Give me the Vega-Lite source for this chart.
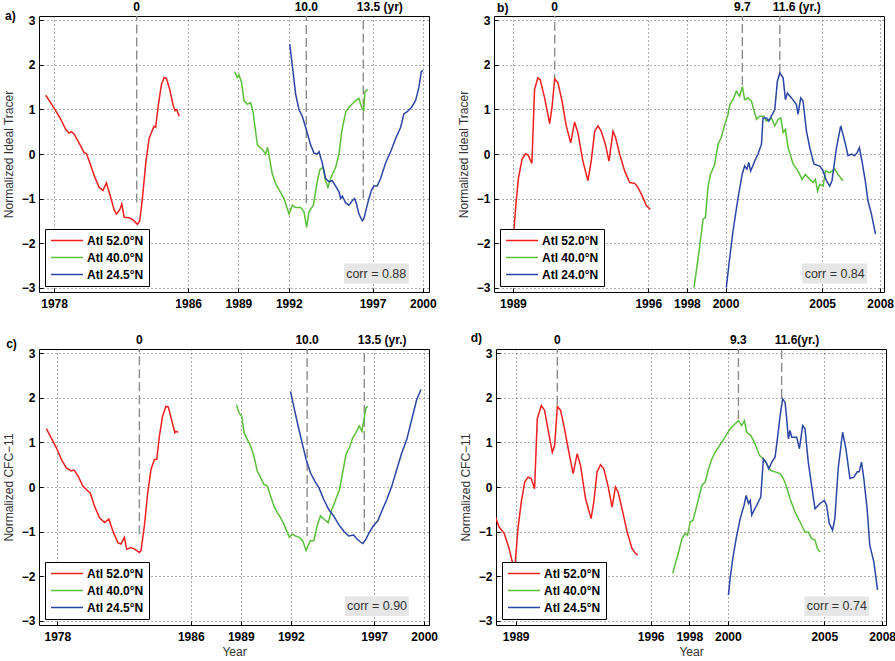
{
  "$schema": "https://vega.github.io/schema/vega-lite/v6.json",
  "padding": {"left": 1, "top": 0, "right": 0, "bottom": 2},
  "config": {
    "font": "Liberation Sans",
    "view": {"stroke": "black", "strokeWidth": 1},
    "axis": {
      "labelFontWeight": "bold", "labelFontSize": 12, "labelColor": "black",
      "titleFontWeight": "normal", "titleFontSize": 12, "titleColor": "#333",
      "ticks": true, "tickSize": -4, "tickColor": "black", "tickWidth": 1,
      "domain": false, "grid": true,
      "gridDash": [1, 3], "gridColor": "#333", "gridWidth": 0.8,
      "labelFlush": false, "labelOverlap": false
    },
    "axisX": {"labelPadding": 10, "format": "d", "titlePadding": 4},
    "axisY": {"labelPadding": 8, "titlePadding": 6},
    "legend": {
      "title": null, "orient": "bottom-left", "offset": 6, "padding": 5,
      "strokeColor": "black", "fillColor": "white", "cornerRadius": 0,
      "symbolType": "M-1,0H4.82", "symbolSize": 121, "symbolStrokeWidth": 1.5,
      "labelFontWeight": "bold", "labelFontSize": 12, "labelColor": "black",
      "rowPadding": 4, "labelOffset": 24
    }
  },
  "datasets": {
    "a": [
      {"site":"Atl 52.0°N","year":1977.50,"v":1.32},{"site":"Atl 52.0°N","year":1977.80,"v":1.15},{"site":"Atl 52.0°N","year":1978.10,"v":0.97},{"site":"Atl 52.0°N","year":1978.40,"v":0.78},{"site":"Atl 52.0°N","year":1978.70,"v":0.55},{"site":"Atl 52.0°N","year":1978.89,"v":0.47},{"site":"Atl 52.0°N","year":1979.03,"v":0.50},{"site":"Atl 52.0°N","year":1979.19,"v":0.45},{"site":"Atl 52.0°N","year":1979.49,"v":0.25},{"site":"Atl 52.0°N","year":1979.79,"v":0.03},{"site":"Atl 52.0°N","year":1979.93,"v":0.01},{"site":"Atl 52.0°N","year":1980.09,"v":-0.15},{"site":"Atl 52.0°N","year":1980.39,"v":-0.48},{"site":"Atl 52.0°N","year":1980.68,"v":-0.75},{"site":"Atl 52.0°N","year":1980.92,"v":-0.82},{"site":"Atl 52.0°N","year":1981.12,"v":-0.65},{"site":"Atl 52.0°N","year":1981.32,"v":-0.90},{"site":"Atl 52.0°N","year":1981.58,"v":-1.25},{"site":"Atl 52.0°N","year":1981.72,"v":-1.35},{"site":"Atl 52.0°N","year":1981.92,"v":-1.25},{"site":"Atl 52.0°N","year":1982.04,"v":-1.12},{"site":"Atl 52.0°N","year":1982.18,"v":-1.42},{"site":"Atl 52.0°N","year":1982.47,"v":-1.43},{"site":"Atl 52.0°N","year":1982.71,"v":-1.48},{"site":"Atl 52.0°N","year":1982.97,"v":-1.58},{"site":"Atl 52.0°N","year":1983.11,"v":-1.50},{"site":"Atl 52.0°N","year":1983.27,"v":-1.00},{"site":"Atl 52.0°N","year":1983.47,"v":-0.20},{"site":"Atl 52.0°N","year":1983.67,"v":0.35},{"site":"Atl 52.0°N","year":1983.83,"v":0.50},{"site":"Atl 52.0°N","year":1983.96,"v":0.62},{"site":"Atl 52.0°N","year":1984.06,"v":0.60},{"site":"Atl 52.0°N","year":1984.22,"v":1.10},{"site":"Atl 52.0°N","year":1984.40,"v":1.55},{"site":"Atl 52.0°N","year":1984.56,"v":1.72},{"site":"Atl 52.0°N","year":1984.70,"v":1.70},{"site":"Atl 52.0°N","year":1984.90,"v":1.45},{"site":"Atl 52.0°N","year":1985.10,"v":1.10},{"site":"Atl 52.0°N","year":1985.22,"v":0.97},{"site":"Atl 52.0°N","year":1985.32,"v":1.00},{"site":"Atl 52.0°N","year":1985.46,"v":0.85},
      {"site":"Atl 40.0°N","year":1988.78,"v":1.85},{"site":"Atl 40.0°N","year":1988.93,"v":1.72},{"site":"Atl 40.0°N","year":1989.03,"v":1.78},{"site":"Atl 40.0°N","year":1989.19,"v":1.60},{"site":"Atl 40.0°N","year":1989.33,"v":1.20},{"site":"Atl 40.0°N","year":1989.53,"v":1.12},{"site":"Atl 40.0°N","year":1989.73,"v":1.15},{"site":"Atl 40.0°N","year":1989.87,"v":0.95},{"site":"Atl 40.0°N","year":1990.13,"v":0.20},{"site":"Atl 40.0°N","year":1990.43,"v":0.10},{"site":"Atl 40.0°N","year":1990.62,"v":0.00},{"site":"Atl 40.0°N","year":1990.74,"v":0.15},{"site":"Atl 40.0°N","year":1991.02,"v":-0.45},{"site":"Atl 40.0°N","year":1991.26,"v":-0.70},{"site":"Atl 40.0°N","year":1991.42,"v":-0.80},{"site":"Atl 40.0°N","year":1991.72,"v":-1.00},{"site":"Atl 40.0°N","year":1992.02,"v":-1.35},{"site":"Atl 40.0°N","year":1992.21,"v":-1.15},{"site":"Atl 40.0°N","year":1992.41,"v":-1.20},{"site":"Atl 40.0°N","year":1992.71,"v":-1.20},{"site":"Atl 40.0°N","year":1992.91,"v":-1.30},{"site":"Atl 40.0°N","year":1993.07,"v":-1.65},{"site":"Atl 40.0°N","year":1993.21,"v":-1.30},{"site":"Atl 40.0°N","year":1993.47,"v":-1.15},{"site":"Atl 40.0°N","year":1993.71,"v":-0.60},{"site":"Atl 40.0°N","year":1993.86,"v":-0.35},{"site":"Atl 40.0°N","year":1994.04,"v":-0.30},{"site":"Atl 40.0°N","year":1994.20,"v":-0.60},{"site":"Atl 40.0°N","year":1994.34,"v":-0.75},{"site":"Atl 40.0°N","year":1994.50,"v":-0.55},{"site":"Atl 40.0°N","year":1994.80,"v":-0.30},{"site":"Atl 40.0°N","year":1995.00,"v":0.00},{"site":"Atl 40.0°N","year":1995.16,"v":0.50},{"site":"Atl 40.0°N","year":1995.40,"v":0.95},{"site":"Atl 40.0°N","year":1995.59,"v":1.05},{"site":"Atl 40.0°N","year":1995.99,"v":1.20},{"site":"Atl 40.0°N","year":1996.19,"v":1.25},{"site":"Atl 40.0°N","year":1996.39,"v":1.00},{"site":"Atl 40.0°N","year":1996.47,"v":0.98},{"site":"Atl 40.0°N","year":1996.55,"v":1.40},{"site":"Atl 40.0°N","year":1996.71,"v":1.45},
      {"site":"Atl 24.5°N","year":1992.06,"v":2.47},{"site":"Atl 24.5°N","year":1992.21,"v":2.00},{"site":"Atl 24.5°N","year":1992.41,"v":1.35},{"site":"Atl 24.5°N","year":1992.61,"v":1.00},{"site":"Atl 24.5°N","year":1992.81,"v":0.85},{"site":"Atl 24.5°N","year":1993.05,"v":0.55},{"site":"Atl 24.5°N","year":1993.31,"v":0.20},{"site":"Atl 24.5°N","year":1993.51,"v":0.02},{"site":"Atl 24.5°N","year":1993.71,"v":0.00},{"site":"Atl 24.5°N","year":1993.81,"v":0.05},{"site":"Atl 24.5°N","year":1994.00,"v":-0.20},{"site":"Atl 24.5°N","year":1994.20,"v":-0.55},{"site":"Atl 24.5°N","year":1994.40,"v":-0.62},{"site":"Atl 24.5°N","year":1994.60,"v":-0.60},{"site":"Atl 24.5°N","year":1994.80,"v":-0.72},{"site":"Atl 24.5°N","year":1995.00,"v":-0.85},{"site":"Atl 24.5°N","year":1995.10,"v":-1.00},{"site":"Atl 24.5°N","year":1995.20,"v":-0.95},{"site":"Atl 24.5°N","year":1995.40,"v":-1.10},{"site":"Atl 24.5°N","year":1995.59,"v":-1.15},{"site":"Atl 24.5°N","year":1995.79,"v":-1.05},{"site":"Atl 24.5°N","year":1995.93,"v":-1.00},{"site":"Atl 24.5°N","year":1996.03,"v":-1.10},{"site":"Atl 24.5°N","year":1996.19,"v":-1.35},{"site":"Atl 24.5°N","year":1996.39,"v":-1.50},{"site":"Atl 24.5°N","year":1996.49,"v":-1.45},{"site":"Atl 24.5°N","year":1996.65,"v":-1.20},{"site":"Atl 24.5°N","year":1996.79,"v":-1.00},{"site":"Atl 24.5°N","year":1996.95,"v":-0.80},{"site":"Atl 24.5°N","year":1997.09,"v":-0.72},{"site":"Atl 24.5°N","year":1997.28,"v":-0.72},{"site":"Atl 24.5°N","year":1997.48,"v":-0.55},{"site":"Atl 24.5°N","year":1997.78,"v":-0.20},{"site":"Atl 24.5°N","year":1998.08,"v":0.05},{"site":"Atl 24.5°N","year":1998.38,"v":0.35},{"site":"Atl 24.5°N","year":1998.68,"v":0.60},{"site":"Atl 24.5°N","year":1998.87,"v":0.90},{"site":"Atl 24.5°N","year":1999.07,"v":0.95},{"site":"Atl 24.5°N","year":1999.33,"v":1.05},{"site":"Atl 24.5°N","year":1999.57,"v":1.20},{"site":"Atl 24.5°N","year":1999.77,"v":1.50},{"site":"Atl 24.5°N","year":1999.91,"v":1.85},{"site":"Atl 24.5°N","year":2000.01,"v":1.88}
    ],
    "b": [
      {"site":"Atl 52.0°N","year":1988.83,"v":-2.55},{"site":"Atl 52.0°N","year":1989.05,"v":-1.72},{"site":"Atl 52.0°N","year":1989.17,"v":-1.05},{"site":"Atl 52.0°N","year":1989.29,"v":-0.53},{"site":"Atl 52.0°N","year":1989.47,"v":-0.12},{"site":"Atl 52.0°N","year":1989.64,"v":0.00},{"site":"Atl 52.0°N","year":1989.78,"v":-0.02},{"site":"Atl 52.0°N","year":1989.98,"v":-0.21},{"site":"Atl 52.0°N","year":1990.12,"v":1.45},{"site":"Atl 52.0°N","year":1990.29,"v":1.71},{"site":"Atl 52.0°N","year":1990.41,"v":1.67},{"site":"Atl 52.0°N","year":1990.64,"v":1.26},{"site":"Atl 52.0°N","year":1990.90,"v":0.68},{"site":"Atl 52.0°N","year":1991.02,"v":1.04},{"site":"Atl 52.0°N","year":1991.16,"v":1.69},{"site":"Atl 52.0°N","year":1991.33,"v":1.60},{"site":"Atl 52.0°N","year":1991.54,"v":1.19},{"site":"Atl 52.0°N","year":1991.76,"v":0.63},{"site":"Atl 52.0°N","year":1991.99,"v":0.25},{"site":"Atl 52.0°N","year":1992.19,"v":0.72},{"site":"Atl 52.0°N","year":1992.36,"v":0.48},{"site":"Atl 52.0°N","year":1992.62,"v":-0.16},{"site":"Atl 52.0°N","year":1992.88,"v":-0.60},{"site":"Atl 52.0°N","year":1993.05,"v":-0.16},{"site":"Atl 52.0°N","year":1993.23,"v":0.51},{"site":"Atl 52.0°N","year":1993.40,"v":0.63},{"site":"Atl 52.0°N","year":1993.57,"v":0.51},{"site":"Atl 52.0°N","year":1993.78,"v":0.22},{"site":"Atl 52.0°N","year":1993.97,"v":-0.16},{"site":"Atl 52.0°N","year":1994.18,"v":0.51},{"site":"Atl 52.0°N","year":1994.31,"v":0.37},{"site":"Atl 52.0°N","year":1994.52,"v":0.00},{"site":"Atl 52.0°N","year":1994.78,"v":-0.38},{"site":"Atl 52.0°N","year":1995.04,"v":-0.64},{"site":"Atl 52.0°N","year":1995.30,"v":-0.66},{"site":"Atl 52.0°N","year":1995.47,"v":-0.75},{"site":"Atl 52.0°N","year":1995.73,"v":-0.98},{"site":"Atl 52.0°N","year":1995.90,"v":-1.16},{"site":"Atl 52.0°N","year":1996.11,"v":-1.24},
      {"site":"Atl 40.0°N","year":1998.37,"v":-3.00},{"site":"Atl 40.0°N","year":1998.61,"v":-2.25},{"site":"Atl 40.0°N","year":1998.84,"v":-1.46},{"site":"Atl 40.0°N","year":1998.96,"v":-1.43},{"site":"Atl 40.0°N","year":1999.09,"v":-0.75},{"site":"Atl 40.0°N","year":1999.22,"v":-0.46},{"site":"Atl 40.0°N","year":1999.44,"v":-0.23},{"site":"Atl 40.0°N","year":1999.61,"v":0.22},{"site":"Atl 40.0°N","year":1999.78,"v":0.37},{"site":"Atl 40.0°N","year":1999.96,"v":0.66},{"site":"Atl 40.0°N","year":2000.13,"v":0.89},{"site":"Atl 40.0°N","year":2000.22,"v":1.11},{"site":"Atl 40.0°N","year":2000.39,"v":1.22},{"site":"Atl 40.0°N","year":2000.56,"v":1.41},{"site":"Atl 40.0°N","year":2000.73,"v":1.30},{"site":"Atl 40.0°N","year":2000.87,"v":1.52},{"site":"Atl 40.0°N","year":2000.99,"v":1.22},{"site":"Atl 40.0°N","year":2001.17,"v":1.26},{"site":"Atl 40.0°N","year":2001.34,"v":1.19},{"site":"Atl 40.0°N","year":2001.60,"v":0.78},{"site":"Atl 40.0°N","year":2001.77,"v":0.85},{"site":"Atl 40.0°N","year":2001.99,"v":0.85},{"site":"Atl 40.0°N","year":2002.11,"v":0.74},{"site":"Atl 40.0°N","year":2002.37,"v":0.81},{"site":"Atl 40.0°N","year":2002.55,"v":0.63},{"site":"Atl 40.0°N","year":2002.72,"v":0.78},{"site":"Atl 40.0°N","year":2002.86,"v":0.81},{"site":"Atl 40.0°N","year":2002.98,"v":0.48},{"site":"Atl 40.0°N","year":2003.10,"v":0.55},{"site":"Atl 40.0°N","year":2003.24,"v":0.14},{"site":"Atl 40.0°N","year":2003.50,"v":-0.23},{"site":"Atl 40.0°N","year":2003.75,"v":-0.38},{"site":"Atl 40.0°N","year":2003.96,"v":-0.57},{"site":"Atl 40.0°N","year":2004.13,"v":-0.46},{"site":"Atl 40.0°N","year":2004.36,"v":-0.57},{"site":"Atl 40.0°N","year":2004.53,"v":-0.64},{"site":"Atl 40.0°N","year":2004.65,"v":-0.57},{"site":"Atl 40.0°N","year":2004.76,"v":-0.83},{"site":"Atl 40.0°N","year":2004.88,"v":-0.68},{"site":"Atl 40.0°N","year":2005.05,"v":-0.72},{"site":"Atl 40.0°N","year":2005.17,"v":-0.38},{"site":"Atl 40.0°N","year":2005.39,"v":-0.42},{"site":"Atl 40.0°N","year":2005.65,"v":-0.34},{"site":"Atl 40.0°N","year":2005.82,"v":-0.46},{"site":"Atl 40.0°N","year":2006.08,"v":-0.60},
      {"site":"Atl 24.0°N","year":2000.04,"v":-3.00},{"site":"Atl 24.0°N","year":2000.22,"v":-2.32},{"site":"Atl 24.0°N","year":2000.39,"v":-1.72},{"site":"Atl 24.0°N","year":2000.65,"v":-0.98},{"site":"Atl 24.0°N","year":2000.86,"v":-0.46},{"site":"Atl 24.0°N","year":2000.99,"v":-0.27},{"site":"Atl 24.0°N","year":2001.11,"v":-0.34},{"site":"Atl 24.0°N","year":2001.20,"v":-0.19},{"site":"Atl 24.0°N","year":2001.30,"v":-0.38},{"site":"Atl 24.0°N","year":2001.51,"v":-0.16},{"site":"Atl 24.0°N","year":2001.68,"v":0.00},{"site":"Atl 24.0°N","year":2001.86,"v":0.22},{"site":"Atl 24.0°N","year":2001.94,"v":0.81},{"site":"Atl 24.0°N","year":2002.11,"v":0.81},{"site":"Atl 24.0°N","year":2002.24,"v":0.74},{"site":"Atl 24.0°N","year":2002.37,"v":0.85},{"site":"Atl 24.0°N","year":2002.55,"v":1.00},{"site":"Atl 24.0°N","year":2002.68,"v":1.63},{"site":"Atl 24.0°N","year":2002.81,"v":1.82},{"site":"Atl 24.0°N","year":2002.98,"v":1.71},{"site":"Atl 24.0°N","year":2003.10,"v":1.22},{"site":"Atl 24.0°N","year":2003.20,"v":1.37},{"site":"Atl 24.0°N","year":2003.41,"v":1.26},{"site":"Atl 24.0°N","year":2003.67,"v":1.11},{"site":"Atl 24.0°N","year":2003.75,"v":0.89},{"site":"Atl 24.0°N","year":2003.89,"v":1.26},{"site":"Atl 24.0°N","year":2004.01,"v":1.19},{"site":"Atl 24.0°N","year":2004.19,"v":0.51},{"site":"Atl 24.0°N","year":2004.36,"v":0.14},{"site":"Atl 24.0°N","year":2004.58,"v":-0.23},{"site":"Atl 24.0°N","year":2004.88,"v":-0.27},{"site":"Atl 24.0°N","year":2005.05,"v":-0.38},{"site":"Atl 24.0°N","year":2005.22,"v":-0.60},{"site":"Atl 24.0°N","year":2005.39,"v":-0.72},{"site":"Atl 24.0°N","year":2005.51,"v":-0.60},{"site":"Atl 24.0°N","year":2005.74,"v":0.14},{"site":"Atl 24.0°N","year":2005.96,"v":0.63},{"site":"Atl 24.0°N","year":2006.17,"v":0.29},{"site":"Atl 24.0°N","year":2006.34,"v":-0.04},{"site":"Atl 24.0°N","year":2006.53,"v":0.00},{"site":"Atl 24.0°N","year":2006.68,"v":-0.04},{"site":"Atl 24.0°N","year":2006.81,"v":0.03},{"site":"Atl 24.0°N","year":2006.93,"v":0.14},{"site":"Atl 24.0°N","year":2007.06,"v":-0.16},{"site":"Atl 24.0°N","year":2007.23,"v":-0.60},{"site":"Atl 24.0°N","year":2007.37,"v":-1.05},{"site":"Atl 24.0°N","year":2007.55,"v":-1.35},{"site":"Atl 24.0°N","year":2007.76,"v":-1.80}
    ],
    "c": [
      {"site":"Atl 52.0°N","year":1977.34,"v":1.31},{"site":"Atl 52.0°N","year":1977.64,"v":1.10},{"site":"Atl 52.0°N","year":1977.94,"v":0.88},{"site":"Atl 52.0°N","year":1978.24,"v":0.62},{"site":"Atl 52.0°N","year":1978.54,"v":0.43},{"site":"Atl 52.0°N","year":1978.84,"v":0.36},{"site":"Atl 52.0°N","year":1979.00,"v":0.38},{"site":"Atl 52.0°N","year":1979.24,"v":0.25},{"site":"Atl 52.0°N","year":1979.53,"v":0.02},{"site":"Atl 52.0°N","year":1979.83,"v":-0.09},{"site":"Atl 52.0°N","year":1979.97,"v":-0.13},{"site":"Atl 52.0°N","year":1980.23,"v":-0.43},{"site":"Atl 52.0°N","year":1980.53,"v":-0.69},{"site":"Atl 52.0°N","year":1980.83,"v":-0.80},{"site":"Atl 52.0°N","year":1981.09,"v":-0.72},{"site":"Atl 52.0°N","year":1981.33,"v":-0.99},{"site":"Atl 52.0°N","year":1981.63,"v":-1.25},{"site":"Atl 52.0°N","year":1981.82,"v":-1.28},{"site":"Atl 52.0°N","year":1982.02,"v":-1.13},{"site":"Atl 52.0°N","year":1982.16,"v":-1.40},{"site":"Atl 52.0°N","year":1982.42,"v":-1.36},{"site":"Atl 52.0°N","year":1982.66,"v":-1.40},{"site":"Atl 52.0°N","year":1982.92,"v":-1.47},{"site":"Atl 52.0°N","year":1983.02,"v":-1.43},{"site":"Atl 52.0°N","year":1983.22,"v":-0.87},{"site":"Atl 52.0°N","year":1983.42,"v":-0.13},{"site":"Atl 52.0°N","year":1983.62,"v":0.40},{"site":"Atl 52.0°N","year":1983.82,"v":0.62},{"site":"Atl 52.0°N","year":1983.96,"v":0.62},{"site":"Atl 52.0°N","year":1984.12,"v":1.14},{"site":"Atl 52.0°N","year":1984.31,"v":1.59},{"site":"Atl 52.0°N","year":1984.51,"v":1.81},{"site":"Atl 52.0°N","year":1984.65,"v":1.80},{"site":"Atl 52.0°N","year":1984.85,"v":1.51},{"site":"Atl 52.0°N","year":1985.05,"v":1.22},{"site":"Atl 52.0°N","year":1985.11,"v":1.25},{"site":"Atl 52.0°N","year":1985.25,"v":1.23},
      {"site":"Atl 40.0°N","year":1988.74,"v":1.85},{"site":"Atl 40.0°N","year":1988.90,"v":1.66},{"site":"Atl 40.0°N","year":1989.06,"v":1.59},{"site":"Atl 40.0°N","year":1989.20,"v":1.22},{"site":"Atl 40.0°N","year":1989.39,"v":1.07},{"site":"Atl 40.0°N","year":1989.59,"v":0.92},{"site":"Atl 40.0°N","year":1989.79,"v":0.69},{"site":"Atl 40.0°N","year":1989.99,"v":0.36},{"site":"Atl 40.0°N","year":1990.19,"v":0.21},{"site":"Atl 40.0°N","year":1990.39,"v":0.06},{"site":"Atl 40.0°N","year":1990.59,"v":0.02},{"site":"Atl 40.0°N","year":1990.79,"v":-0.20},{"site":"Atl 40.0°N","year":1990.99,"v":-0.43},{"site":"Atl 40.0°N","year":1991.19,"v":-0.57},{"site":"Atl 40.0°N","year":1991.39,"v":-0.69},{"site":"Atl 40.0°N","year":1991.59,"v":-0.84},{"site":"Atl 40.0°N","year":1991.79,"v":-1.02},{"site":"Atl 40.0°N","year":1991.92,"v":-1.13},{"site":"Atl 40.0°N","year":1992.08,"v":-1.06},{"site":"Atl 40.0°N","year":1992.28,"v":-1.10},{"site":"Atl 40.0°N","year":1992.52,"v":-1.13},{"site":"Atl 40.0°N","year":1992.72,"v":-1.21},{"site":"Atl 40.0°N","year":1992.92,"v":-1.43},{"site":"Atl 40.0°N","year":1993.04,"v":-1.32},{"site":"Atl 40.0°N","year":1993.18,"v":-1.21},{"site":"Atl 40.0°N","year":1993.38,"v":-1.21},{"site":"Atl 40.0°N","year":1993.58,"v":-0.87},{"site":"Atl 40.0°N","year":1993.78,"v":-0.65},{"site":"Atl 40.0°N","year":1993.98,"v":-0.72},{"site":"Atl 40.0°N","year":1994.24,"v":-0.80},{"site":"Atl 40.0°N","year":1994.47,"v":-0.50},{"site":"Atl 40.0°N","year":1994.67,"v":-0.31},{"site":"Atl 40.0°N","year":1994.77,"v":-0.20},{"site":"Atl 40.0°N","year":1994.93,"v":-0.05},{"site":"Atl 40.0°N","year":1995.11,"v":0.32},{"site":"Atl 40.0°N","year":1995.31,"v":0.73},{"site":"Atl 40.0°N","year":1995.51,"v":0.88},{"site":"Atl 40.0°N","year":1995.71,"v":1.10},{"site":"Atl 40.0°N","year":1995.91,"v":1.22},{"site":"Atl 40.0°N","year":1996.11,"v":1.37},{"site":"Atl 40.0°N","year":1996.27,"v":1.25},{"site":"Atl 40.0°N","year":1996.37,"v":1.48},{"site":"Atl 40.0°N","year":1996.51,"v":1.78},{"site":"Atl 40.0°N","year":1996.63,"v":1.81},
      {"site":"Atl 24.5°N","year":1991.98,"v":2.15},{"site":"Atl 24.5°N","year":1992.18,"v":1.81},{"site":"Atl 24.5°N","year":1992.44,"v":1.37},{"site":"Atl 24.5°N","year":1992.68,"v":0.99},{"site":"Atl 24.5°N","year":1992.92,"v":0.62},{"site":"Atl 24.5°N","year":1993.18,"v":0.32},{"site":"Atl 24.5°N","year":1993.44,"v":0.13},{"site":"Atl 24.5°N","year":1993.68,"v":-0.01},{"site":"Atl 24.5°N","year":1993.98,"v":-0.28},{"site":"Atl 24.5°N","year":1994.27,"v":-0.50},{"site":"Atl 24.5°N","year":1994.57,"v":-0.65},{"site":"Atl 24.5°N","year":1994.87,"v":-0.84},{"site":"Atl 24.5°N","year":1995.17,"v":-0.99},{"site":"Atl 24.5°N","year":1995.47,"v":-1.10},{"site":"Atl 24.5°N","year":1995.77,"v":-1.08},{"site":"Atl 24.5°N","year":1995.97,"v":-1.17},{"site":"Atl 24.5°N","year":1996.17,"v":-1.23},{"site":"Atl 24.5°N","year":1996.33,"v":-1.27},{"site":"Atl 24.5°N","year":1996.51,"v":-1.17},{"site":"Atl 24.5°N","year":1996.71,"v":-1.02},{"site":"Atl 24.5°N","year":1996.96,"v":-0.87},{"site":"Atl 24.5°N","year":1997.22,"v":-0.76},{"site":"Atl 24.5°N","year":1997.46,"v":-0.54},{"site":"Atl 24.5°N","year":1997.76,"v":-0.28},{"site":"Atl 24.5°N","year":1998.06,"v":0.02},{"site":"Atl 24.5°N","year":1998.36,"v":0.40},{"site":"Atl 24.5°N","year":1998.66,"v":0.77},{"site":"Atl 24.5°N","year":1998.96,"v":1.07},{"site":"Atl 24.5°N","year":1999.25,"v":1.51},{"site":"Atl 24.5°N","year":1999.55,"v":1.96},{"site":"Atl 24.5°N","year":1999.81,"v":2.19}
    ],
    "d": [
      {"site":"Atl 52.0°N","year":1987.97,"v":-0.69},{"site":"Atl 52.0°N","year":1988.14,"v":-0.90},{"site":"Atl 52.0°N","year":1988.40,"v":-1.04},{"site":"Atl 52.0°N","year":1988.66,"v":-1.38},{"site":"Atl 52.0°N","year":1988.86,"v":-1.75},{"site":"Atl 52.0°N","year":1988.95,"v":-1.85},{"site":"Atl 52.0°N","year":1989.12,"v":-0.93},{"site":"Atl 52.0°N","year":1989.29,"v":-0.34},{"site":"Atl 52.0°N","year":1989.47,"v":0.11},{"site":"Atl 52.0°N","year":1989.64,"v":0.22},{"site":"Atl 52.0°N","year":1989.81,"v":0.19},{"site":"Atl 52.0°N","year":1989.98,"v":-0.04},{"site":"Atl 52.0°N","year":1990.12,"v":1.53},{"site":"Atl 52.0°N","year":1990.33,"v":1.83},{"site":"Atl 52.0°N","year":1990.50,"v":1.72},{"site":"Atl 52.0°N","year":1990.67,"v":1.31},{"site":"Atl 52.0°N","year":1990.90,"v":0.78},{"site":"Atl 52.0°N","year":1991.02,"v":0.93},{"site":"Atl 52.0°N","year":1991.16,"v":1.81},{"site":"Atl 52.0°N","year":1991.33,"v":1.72},{"site":"Atl 52.0°N","year":1991.53,"v":1.31},{"site":"Atl 52.0°N","year":1991.76,"v":0.78},{"site":"Atl 52.0°N","year":1991.98,"v":0.30},{"site":"Atl 52.0°N","year":1992.19,"v":0.75},{"site":"Atl 52.0°N","year":1992.36,"v":0.49},{"site":"Atl 52.0°N","year":1992.62,"v":-0.26},{"site":"Atl 52.0°N","year":1992.91,"v":-0.71},{"site":"Atl 52.0°N","year":1993.05,"v":-0.34},{"site":"Atl 52.0°N","year":1993.22,"v":0.34},{"site":"Atl 52.0°N","year":1993.40,"v":0.50},{"site":"Atl 52.0°N","year":1993.57,"v":0.41},{"site":"Atl 52.0°N","year":1993.78,"v":0.04},{"site":"Atl 52.0°N","year":1994.00,"v":-0.45},{"site":"Atl 52.0°N","year":1994.17,"v":0.00},{"site":"Atl 52.0°N","year":1994.31,"v":-0.11},{"site":"Atl 52.0°N","year":1994.55,"v":-0.56},{"site":"Atl 52.0°N","year":1994.78,"v":-1.01},{"site":"Atl 52.0°N","year":1995.03,"v":-1.38},{"site":"Atl 52.0°N","year":1995.21,"v":-1.49},{"site":"Atl 52.0°N","year":1995.33,"v":-1.53},
      {"site":"Atl 40.0°N","year":1997.14,"v":-1.94},{"site":"Atl 40.0°N","year":1997.28,"v":-1.72},{"site":"Atl 40.0°N","year":1997.45,"v":-1.46},{"site":"Atl 40.0°N","year":1997.62,"v":-1.16},{"site":"Atl 40.0°N","year":1997.79,"v":-1.04},{"site":"Atl 40.0°N","year":1997.91,"v":-1.08},{"site":"Atl 40.0°N","year":1998.05,"v":-0.78},{"site":"Atl 40.0°N","year":1998.19,"v":-0.75},{"site":"Atl 40.0°N","year":1998.31,"v":-0.56},{"site":"Atl 40.0°N","year":1998.48,"v":-0.26},{"site":"Atl 40.0°N","year":1998.66,"v":0.04},{"site":"Atl 40.0°N","year":1998.83,"v":0.11},{"site":"Atl 40.0°N","year":1999.00,"v":0.41},{"site":"Atl 40.0°N","year":1999.17,"v":0.63},{"site":"Atl 40.0°N","year":1999.34,"v":0.78},{"site":"Atl 40.0°N","year":1999.52,"v":0.90},{"site":"Atl 40.0°N","year":1999.69,"v":1.01},{"site":"Atl 40.0°N","year":1999.95,"v":1.19},{"site":"Atl 40.0°N","year":2000.12,"v":1.31},{"site":"Atl 40.0°N","year":2000.29,"v":1.38},{"site":"Atl 40.0°N","year":2000.55,"v":1.49},{"site":"Atl 40.0°N","year":2000.72,"v":1.38},{"site":"Atl 40.0°N","year":2000.86,"v":1.49},{"site":"Atl 40.0°N","year":2000.98,"v":1.23},{"site":"Atl 40.0°N","year":2001.19,"v":1.16},{"site":"Atl 40.0°N","year":2001.41,"v":0.97},{"site":"Atl 40.0°N","year":2001.64,"v":0.71},{"site":"Atl 40.0°N","year":2001.84,"v":0.63},{"site":"Atl 40.0°N","year":2002.02,"v":0.52},{"site":"Atl 40.0°N","year":2002.22,"v":0.37},{"site":"Atl 40.0°N","year":2002.45,"v":0.34},{"site":"Atl 40.0°N","year":2002.71,"v":0.30},{"site":"Atl 40.0°N","year":2002.88,"v":0.19},{"site":"Atl 40.0°N","year":2003.05,"v":0.00},{"site":"Atl 40.0°N","year":2003.22,"v":-0.26},{"site":"Atl 40.0°N","year":2003.48,"v":-0.56},{"site":"Atl 40.0°N","year":2003.74,"v":-0.78},{"site":"Atl 40.0°N","year":2004.00,"v":-1.01},{"site":"Atl 40.0°N","year":2004.17,"v":-1.01},{"site":"Atl 40.0°N","year":2004.34,"v":-1.16},{"site":"Atl 40.0°N","year":2004.52,"v":-1.19},{"site":"Atl 40.0°N","year":2004.64,"v":-1.38},{"site":"Atl 40.0°N","year":2004.78,"v":-1.46},
      {"site":"Atl 24.5°N","year":2000.03,"v":-2.43},{"site":"Atl 24.5°N","year":2000.12,"v":-2.05},{"site":"Atl 24.5°N","year":2000.26,"v":-1.60},{"site":"Atl 24.5°N","year":2000.43,"v":-1.16},{"site":"Atl 24.5°N","year":2000.64,"v":-0.71},{"site":"Atl 24.5°N","year":2000.84,"v":-0.41},{"site":"Atl 24.5°N","year":2000.95,"v":-0.19},{"site":"Atl 24.5°N","year":2001.07,"v":-0.37},{"site":"Atl 24.5°N","year":2001.16,"v":-0.30},{"site":"Atl 24.5°N","year":2001.24,"v":-0.63},{"site":"Atl 24.5°N","year":2001.36,"v":-0.52},{"site":"Atl 24.5°N","year":2001.50,"v":-0.41},{"site":"Atl 24.5°N","year":2001.71,"v":-0.22},{"site":"Atl 24.5°N","year":2001.84,"v":0.63},{"site":"Atl 24.5°N","year":2001.98,"v":0.56},{"site":"Atl 24.5°N","year":2002.12,"v":0.41},{"site":"Atl 24.5°N","year":2002.28,"v":0.56},{"site":"Atl 24.5°N","year":2002.45,"v":0.67},{"site":"Atl 24.5°N","year":2002.59,"v":1.16},{"site":"Atl 24.5°N","year":2002.71,"v":1.60},{"site":"Atl 24.5°N","year":2002.84,"v":1.98},{"site":"Atl 24.5°N","year":2002.97,"v":1.90},{"site":"Atl 24.5°N","year":2003.05,"v":1.53},{"site":"Atl 24.5°N","year":2003.14,"v":1.08},{"site":"Atl 24.5°N","year":2003.22,"v":1.27},{"site":"Atl 24.5°N","year":2003.31,"v":1.12},{"site":"Atl 24.5°N","year":2003.57,"v":1.12},{"site":"Atl 24.5°N","year":2003.71,"v":0.86},{"site":"Atl 24.5°N","year":2003.88,"v":1.38},{"site":"Atl 24.5°N","year":2004.00,"v":1.31},{"site":"Atl 24.5°N","year":2004.17,"v":0.56},{"site":"Atl 24.5°N","year":2004.34,"v":0.04},{"site":"Atl 24.5°N","year":2004.52,"v":-0.49},{"site":"Atl 24.5°N","year":2004.78,"v":-0.37},{"site":"Atl 24.5°N","year":2005.00,"v":-0.30},{"site":"Atl 24.5°N","year":2005.12,"v":-0.41},{"site":"Atl 24.5°N","year":2005.26,"v":-0.82},{"site":"Atl 24.5°N","year":2005.43,"v":-0.97},{"site":"Atl 24.5°N","year":2005.55,"v":-0.71},{"site":"Atl 24.5°N","year":2005.72,"v":0.41},{"site":"Atl 24.5°N","year":2005.95,"v":1.23},{"site":"Atl 24.5°N","year":2006.12,"v":0.86},{"site":"Atl 24.5°N","year":2006.33,"v":0.19},{"site":"Atl 24.5°N","year":2006.53,"v":0.22},{"site":"Atl 24.5°N","year":2006.71,"v":0.34},{"site":"Atl 24.5°N","year":2006.81,"v":0.34},{"site":"Atl 24.5°N","year":2006.93,"v":0.56},{"site":"Atl 24.5°N","year":2007.05,"v":0.19},{"site":"Atl 24.5°N","year":2007.22,"v":-0.49},{"site":"Atl 24.5°N","year":2007.36,"v":-1.31},{"site":"Atl 24.5°N","year":2007.57,"v":-1.68},{"site":"Atl 24.5°N","year":2007.76,"v":-2.31}
    ],
    "a_lags": [
      {"year":1982.93,"end":-1.09,"label":"0","suffix":false},
      {"year":1993.05,"end":-1.10,"label":"10.0","suffix":false},
      {"year":1996.45,"end":-1.00,"label":"13.5 (yr)","suffix":true}
    ],
    "b_lags": [
      {"year":1991.16,"end":1.60,"label":"0","suffix":false},
      {"year":2000.87,"end":1.55,"label":"9.7","suffix":false},
      {"year":2002.81,"end":1.82,"label":"11.6 (yr.)","suffix":true}
    ],
    "c_lags": [
      {"year":1982.92,"end":-1.06,"label":"0","suffix":false},
      {"year":1992.98,"end":-1.10,"label":"10.0","suffix":false},
      {"year":1996.41,"end":-0.99,"label":"13.5 (yr.)","suffix":true}
    ],
    "d_lags": [
      {"year":1991.16,"end":1.85,"label":"0","suffix":false},
      {"year":2000.55,"end":1.53,"label":"9.3","suffix":false},
      {"year":2002.79,"end":2.00,"label":"11.6(yr.)","suffix":true}
    ]
  },
  "spacing": 21,
  "resolve": {"scale": {"color": "independent"}},
  "vconcat": [
    {
      "spacing": 19,
      "resolve": {"scale": {"color": "independent"}},
      "hconcat": [
        {
          "width": 390, "height": 276,
          "layer": [
            {"data": {"name": "a_lags"}, "mark": {"type": "rule", "color": "#8c8c8c", "strokeDash": [9, 4], "strokeWidth": 1.4},
             "encoding": {
               "x": {"field": "year", "type": "quantitative", "scale": {"domain": [1977.1, 2000.37], "nice": false, "zero": false}, "axis": {"values": [1978, 1986, 1989, 1992, 1997, 2000], "title": null}},
               "y": {"field": "end", "type": "quantitative", "scale": {"domain": [-3.1, 3.1], "nice": false}, "axis": {"values": [-3, -2, -1, 0, 1, 2, 3], "title": "Normalized Ideal Tracer"}},
               "y2": {"datum": 3.1}}},
            {"data": {"name": "a"}, "mark": {"type": "line", "strokeWidth": 1.5, "clip": true},
             "encoding": {
               "x": {"field": "year", "type": "quantitative"},
               "y": {"field": "v", "type": "quantitative"},
               "color": {"field": "site", "type": "nominal", "scale": {"domain": ["Atl 52.0°N", "Atl 40.0°N", "Atl 24.5°N"], "range": ["#f01e1e", "#5cbf3a", "#2b45a5"]}}}},
            {"data": {"name": "a_lags"}, "transform": [{"filter": "!datum.suffix"}], "mark": {"type": "text", "fontWeight": "bold", "fontSize": 12, "baseline": "alphabetic", "dy": -5},
             "encoding": {"x": {"field": "year", "type": "quantitative"}, "y": {"datum": 3.1, "type": "quantitative"}, "text": {"field": "label", "type": "nominal"}}},
            {"data": {"name": "a_lags"}, "transform": [{"filter": "datum.suffix"}], "mark": {"type": "text", "fontWeight": "bold", "fontSize": 12, "baseline": "alphabetic", "align": "left", "dx": -6.5, "dy": -5},
             "encoding": {"x": {"field": "year", "type": "quantitative"}, "y": {"datum": 3.1, "type": "quantitative"}, "text": {"field": "label", "type": "nominal"}}},
            {"data": {"values": [{"text": "corr = 0.88"}]}, "mark": {"type": "rect", "color": "#e6e6e6"},
             "encoding": {"x": {"datum": 1995.29, "type": "quantitative"}, "x2": {"datum": 1999.16}, "y": {"datum": -2.46, "type": "quantitative"}, "y2": {"datum": -2.91}}},
            {"data": {"values": [{"text": "corr = 0.88"}]}, "mark": {"type": "text", "fontSize": 12.5, "color": "#333"},
             "encoding": {"x": {"datum": 1997.22, "type": "quantitative"}, "y": {"datum": -2.69, "type": "quantitative"}, "text": {"field": "text", "type": "nominal"}}},
            {"data": {"values": [{"text": "a)"}]}, "mark": {"type": "text", "align": "left", "fontWeight": "bold", "fontSize": 12},
             "encoding": {"x": {"datum": 1975.07, "type": "quantitative"}, "y": {"datum": 3.09, "type": "quantitative"}, "text": {"field": "text", "type": "nominal"}}}
          ]
        },
        {
          "width": 390, "height": 276,
          "layer": [
            {"data": {"name": "b_lags"}, "mark": {"type": "rule", "color": "#8c8c8c", "strokeDash": [9, 4], "strokeWidth": 1.4},
             "encoding": {
               "x": {"field": "year", "type": "quantitative", "scale": {"domain": [1988.02, 2008.2], "nice": false, "zero": false}, "axis": {"values": [1989, 1996, 1998, 2000, 2005, 2008], "title": null}},
               "y": {"field": "end", "type": "quantitative", "scale": {"domain": [-3.1, 3.1], "nice": false}, "axis": {"values": [-3, -2, -1, 0, 1, 2, 3], "title": "Normalized Ideal Tracer"}},
               "y2": {"datum": 3.1}}},
            {"data": {"name": "b"}, "mark": {"type": "line", "strokeWidth": 1.5, "clip": true},
             "encoding": {
               "x": {"field": "year", "type": "quantitative"},
               "y": {"field": "v", "type": "quantitative"},
               "color": {"field": "site", "type": "nominal", "scale": {"domain": ["Atl 52.0°N", "Atl 40.0°N", "Atl 24.0°N"], "range": ["#f01e1e", "#5cbf3a", "#2b45a5"]}}}},
            {"data": {"name": "b_lags"}, "transform": [{"filter": "!datum.suffix"}], "mark": {"type": "text", "fontWeight": "bold", "fontSize": 12, "baseline": "alphabetic", "dy": -5},
             "encoding": {"x": {"field": "year", "type": "quantitative"}, "y": {"datum": 3.1, "type": "quantitative"}, "text": {"field": "label", "type": "nominal"}}},
            {"data": {"name": "b_lags"}, "transform": [{"filter": "datum.suffix"}], "mark": {"type": "text", "fontWeight": "bold", "fontSize": 12, "baseline": "alphabetic", "align": "left", "dx": -7, "dy": -5},
             "encoding": {"x": {"field": "year", "type": "quantitative"}, "y": {"datum": 3.1, "type": "quantitative"}, "text": {"field": "label", "type": "nominal"}}},
            {"data": {"values": [{"text": "corr = 0.84"}]}, "mark": {"type": "rect", "color": "#e6e6e6"},
             "encoding": {"x": {"datum": 2003.96, "type": "quantitative"}, "x2": {"datum": 2007.33}, "y": {"datum": -2.46, "type": "quantitative"}, "y2": {"datum": -2.91}}},
            {"data": {"values": [{"text": "corr = 0.84"}]}, "mark": {"type": "text", "fontSize": 12.5, "color": "#333"},
             "encoding": {"x": {"datum": 2005.65, "type": "quantitative"}, "y": {"datum": -2.69, "type": "quantitative"}, "text": {"field": "text", "type": "nominal"}}},
            {"data": {"values": [{"text": "b)"}]}, "mark": {"type": "text", "align": "left", "fontWeight": "bold", "fontSize": 12},
             "encoding": {"x": {"datum": 1988.18, "type": "quantitative"}, "y": {"datum": 3.27, "type": "quantitative"}, "text": {"field": "text", "type": "nominal"}}}
          ]
        }
      ]
    },
    {
      "spacing": 19,
      "resolve": {"scale": {"color": "independent"}},
      "hconcat": [
        {
          "width": 390, "height": 276,
          "layer": [
            {"data": {"name": "c_lags"}, "mark": {"type": "rule", "color": "#8c8c8c", "strokeDash": [9, 4], "strokeWidth": 1.4},
             "encoding": {
               "x": {"field": "year", "type": "quantitative", "scale": {"domain": [1976.9, 2000.29], "nice": false, "zero": false}, "axis": {"values": [1978, 1986, 1989, 1992, 1997, 2000], "title": "Year"}},
               "y": {"field": "end", "type": "quantitative", "scale": {"domain": [-3.1, 3.1], "nice": false}, "axis": {"values": [-3, -2, -1, 0, 1, 2, 3], "title": "Normalized CFC−11"}},
               "y2": {"datum": 3.1}}},
            {"data": {"name": "c"}, "mark": {"type": "line", "strokeWidth": 1.5, "clip": true},
             "encoding": {
               "x": {"field": "year", "type": "quantitative"},
               "y": {"field": "v", "type": "quantitative"},
               "color": {"field": "site", "type": "nominal", "scale": {"domain": ["Atl 52.0°N", "Atl 40.0°N", "Atl 24.5°N"], "range": ["#f01e1e", "#5cbf3a", "#2b45a5"]}}}},
            {"data": {"name": "c_lags"}, "transform": [{"filter": "!datum.suffix"}], "mark": {"type": "text", "fontWeight": "bold", "fontSize": 12, "baseline": "alphabetic", "dy": -5},
             "encoding": {"x": {"field": "year", "type": "quantitative"}, "y": {"datum": 3.1, "type": "quantitative"}, "text": {"field": "label", "type": "nominal"}}},
            {"data": {"name": "c_lags"}, "transform": [{"filter": "datum.suffix"}], "mark": {"type": "text", "fontWeight": "bold", "fontSize": 12, "baseline": "alphabetic", "align": "left", "dx": -6.5, "dy": -5},
             "encoding": {"x": {"field": "year", "type": "quantitative"}, "y": {"datum": 3.1, "type": "quantitative"}, "text": {"field": "label", "type": "nominal"}}},
            {"data": {"values": [{"text": "corr = 0.90"}]}, "mark": {"type": "rect", "color": "#e6e6e6"},
             "encoding": {"x": {"datum": 1995.25, "type": "quantitative"}, "x2": {"datum": 1999.08}, "y": {"datum": -2.46, "type": "quantitative"}, "y2": {"datum": -2.9}}},
            {"data": {"values": [{"text": "corr = 0.90"}]}, "mark": {"type": "text", "fontSize": 12.5, "color": "#333"},
             "encoding": {"x": {"datum": 1997.17, "type": "quantitative"}, "y": {"datum": -2.68, "type": "quantitative"}, "text": {"field": "text", "type": "nominal"}}},
            {"data": {"values": [{"text": "c)"}]}, "mark": {"type": "text", "align": "left", "fontWeight": "bold", "fontSize": 12},
             "encoding": {"x": {"datum": 1974.93, "type": "quantitative"}, "y": {"datum": 3.22, "type": "quantitative"}, "text": {"field": "text", "type": "nominal"}}}
          ]
        },
        {
          "width": 390, "height": 276,
          "layer": [
            {"data": {"name": "d_lags"}, "mark": {"type": "rule", "color": "#8c8c8c", "strokeDash": [9, 4], "strokeWidth": 1.4},
             "encoding": {
               "x": {"field": "year", "type": "quantitative", "scale": {"domain": [1987.98, 2008.2], "nice": false, "zero": false}, "axis": {"values": [1989, 1996, 1998, 2000, 2005, 2008], "title": "Year"}},
               "y": {"field": "end", "type": "quantitative", "scale": {"domain": [-3.1, 3.1], "nice": false}, "axis": {"values": [-3, -2, -1, 0, 1, 2, 3], "title": "Normalized CFC−11"}},
               "y2": {"datum": 3.1}}},
            {"data": {"name": "d"}, "mark": {"type": "line", "strokeWidth": 1.5, "clip": true},
             "encoding": {
               "x": {"field": "year", "type": "quantitative"},
               "y": {"field": "v", "type": "quantitative"},
               "color": {"field": "site", "type": "nominal", "scale": {"domain": ["Atl 52.0°N", "Atl 40.0°N", "Atl 24.5°N"], "range": ["#f01e1e", "#5cbf3a", "#2b45a5"]}}}},
            {"data": {"name": "d_lags"}, "transform": [{"filter": "!datum.suffix"}], "mark": {"type": "text", "fontWeight": "bold", "fontSize": 12, "baseline": "alphabetic", "dy": -5},
             "encoding": {"x": {"field": "year", "type": "quantitative"}, "y": {"datum": 3.1, "type": "quantitative"}, "text": {"field": "label", "type": "nominal"}}},
            {"data": {"name": "d_lags"}, "transform": [{"filter": "datum.suffix"}], "mark": {"type": "text", "fontWeight": "bold", "fontSize": 12, "baseline": "alphabetic", "align": "left", "dx": -7, "dy": -5},
             "encoding": {"x": {"field": "year", "type": "quantitative"}, "y": {"datum": 3.1, "type": "quantitative"}, "text": {"field": "label", "type": "nominal"}}},
            {"data": {"values": [{"text": "corr = 0.74"}]}, "mark": {"type": "rect", "color": "#e6e6e6"},
             "encoding": {"x": {"datum": 2003.97, "type": "quantitative"}, "x2": {"datum": 2007.33}, "y": {"datum": -2.46, "type": "quantitative"}, "y2": {"datum": -2.9}}},
            {"data": {"values": [{"text": "corr = 0.74"}]}, "mark": {"type": "text", "fontSize": 12.5, "color": "#333"},
             "encoding": {"x": {"datum": 2005.65, "type": "quantitative"}, "y": {"datum": -2.68, "type": "quantitative"}, "text": {"field": "text", "type": "nominal"}}},
            {"data": {"values": [{"text": "d)"}]}, "mark": {"type": "text", "align": "left", "fontWeight": "bold", "fontSize": 12},
             "encoding": {"x": {"datum": 1986.67, "type": "quantitative"}, "y": {"datum": 3.34, "type": "quantitative"}, "text": {"field": "text", "type": "nominal"}}}
          ]
        }
      ]
    }
  ]
}
